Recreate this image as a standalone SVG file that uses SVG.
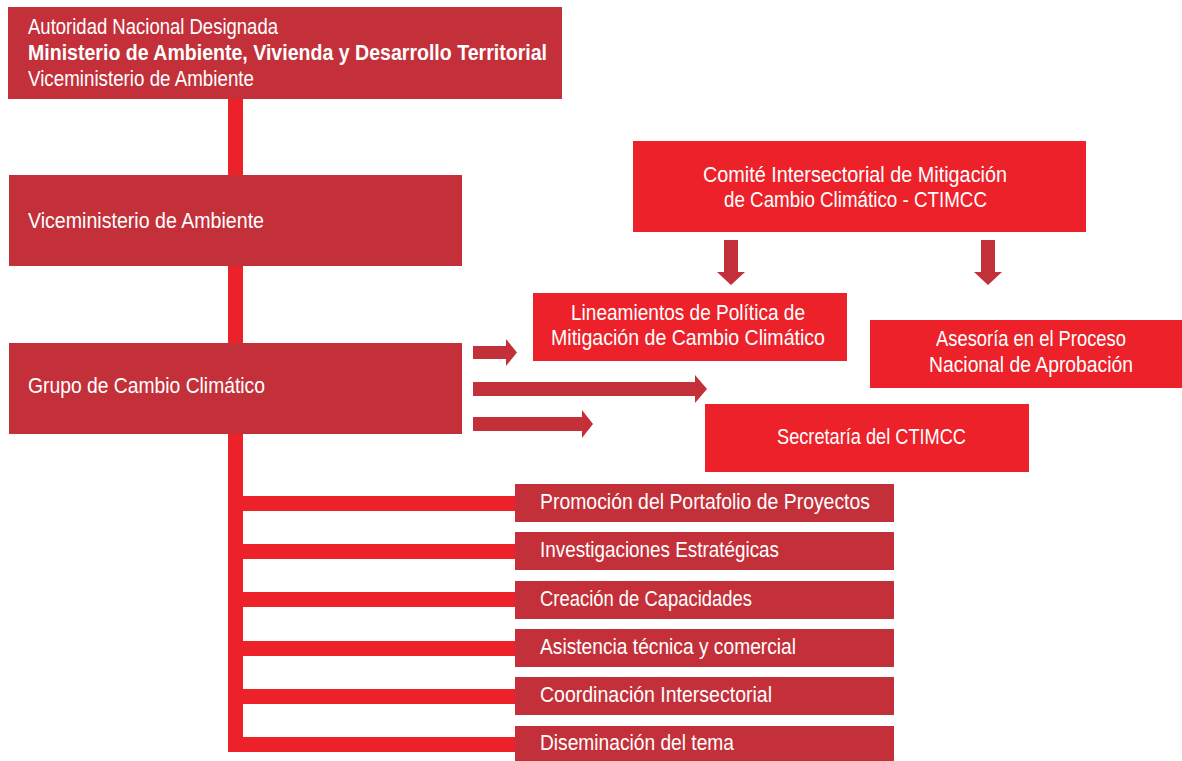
<svg xmlns="http://www.w3.org/2000/svg" width="1182" height="761" viewBox="0 0 1182 761">
<style>
.dk{fill:#C3303A}
.br{fill:#EC2129}
.ln{fill:#EC2129}
.ar{fill:#C3303A}
text{font-family:"Liberation Sans","Noto Sans",sans-serif;font-size:22px;fill:#FFFFFF}
.b{font-weight:bold}
.c{text-anchor:middle}
</style>
<rect width="1182" height="761" fill="#FFFFFF"/>
<g id="connectors">
<rect class="ln" x="228" y="99" width="15" height="653"/>
<rect class="ln" x="228" y="496" width="287" height="15"/>
<rect class="ln" x="228" y="544" width="287" height="15"/>
<rect class="ln" x="228" y="592" width="287" height="15"/>
<rect class="ln" x="228" y="641" width="287" height="15"/>
<rect class="ln" x="228" y="689" width="287" height="15"/>
<rect class="ln" x="228" y="737" width="287" height="15"/>
<polygon class="ar" points="473,346 506,346 506,339 517,352.5 506,366 506,359 473,359"/>
<polygon class="ar" points="473,382 695,382 695,375 707,389 695,403 695,396 473,396"/>
<polygon class="ar" points="473,417 582,417 582,410 593,424 582,438 582,431 473,431"/>
<polygon class="ar" points="724,240 738,240 738,272 745,272 731,285 717,272 724,272"/>
<polygon class="ar" points="981,240 995,240 995,272 1002,272 988,285 974,272 981,272"/>
</g>
<g id="autoridad">
<rect class="dk" x="8" y="7" width="554" height="92"/>
<text x="28" y="34" textLength="250" lengthAdjust="spacingAndGlyphs">Autoridad Nacional Designada</text>
<text class="b" x="28" y="60" textLength="519" lengthAdjust="spacingAndGlyphs">Ministerio de Ambiente, Vivienda y Desarrollo Territorial</text>
<text x="28" y="86" textLength="226" lengthAdjust="spacingAndGlyphs">Viceministerio de Ambiente</text>
</g>
<g id="viceministerio">
<rect class="dk" x="9" y="175" width="453" height="91"/>
<text x="28" y="228" textLength="236" lengthAdjust="spacingAndGlyphs">Viceministerio de Ambiente</text>
</g>
<g id="grupo">
<rect class="dk" x="9" y="343" width="453" height="91"/>
<text x="28" y="393" textLength="237" lengthAdjust="spacingAndGlyphs">Grupo de Cambio Climático</text>
</g>
<g id="ctimcc">
<rect class="br" x="633" y="141" width="453" height="91"/>
<text class="c" x="855" y="182" textLength="304" lengthAdjust="spacingAndGlyphs">Comité Intersectorial de Mitigación</text>
<text class="c" x="855.5" y="207" textLength="263" lengthAdjust="spacingAndGlyphs">de Cambio Climático - CTIMCC</text>
</g>
<g id="lineamientos">
<rect class="br" x="533" y="293" width="314" height="68"/>
<text class="c" x="688" y="320" textLength="234" lengthAdjust="spacingAndGlyphs">Lineamientos de Política de</text>
<text class="c" x="688" y="345" textLength="274" lengthAdjust="spacingAndGlyphs">Mitigación de Cambio Climático</text>
</g>
<g id="asesoria">
<rect class="br" x="870" y="320" width="312" height="68"/>
<text class="c" x="1031" y="346" textLength="190" lengthAdjust="spacingAndGlyphs">Asesoría en el Proceso</text>
<text class="c" x="1031" y="372" textLength="204" lengthAdjust="spacingAndGlyphs">Nacional de Aprobación</text>
</g>
<g id="secretaria">
<rect class="br" x="705" y="404" width="324" height="68"/>
<text class="c" x="871.5" y="444" textLength="189" lengthAdjust="spacingAndGlyphs">Secretaría del CTIMCC</text>
</g>
<g id="promocion">
<rect class="dk" x="515" y="484" width="379" height="38"/>
<text x="540" y="509" textLength="330" lengthAdjust="spacingAndGlyphs">Promoción del Portafolio de Proyectos</text>
</g>
<g id="investigaciones">
<rect class="dk" x="515" y="532" width="379" height="38"/>
<text x="540" y="557" textLength="239" lengthAdjust="spacingAndGlyphs">Investigaciones Estratégicas</text>
</g>
<g id="creacion">
<rect class="dk" x="515" y="581" width="379" height="38"/>
<text x="540" y="606" textLength="212" lengthAdjust="spacingAndGlyphs">Creación de Capacidades</text>
</g>
<g id="asistencia">
<rect class="dk" x="515" y="629" width="379" height="38"/>
<text x="540" y="654" textLength="256" lengthAdjust="spacingAndGlyphs">Asistencia técnica y comercial</text>
</g>
<g id="coordinacion">
<rect class="dk" x="515" y="677" width="379" height="38"/>
<text x="540" y="702" textLength="232" lengthAdjust="spacingAndGlyphs">Coordinación Intersectorial</text>
</g>
<g id="diseminacion">
<rect class="dk" x="515" y="726" width="379" height="35"/>
<text x="540" y="750" textLength="194" lengthAdjust="spacingAndGlyphs">Diseminación del tema</text>
</g>
</svg>
